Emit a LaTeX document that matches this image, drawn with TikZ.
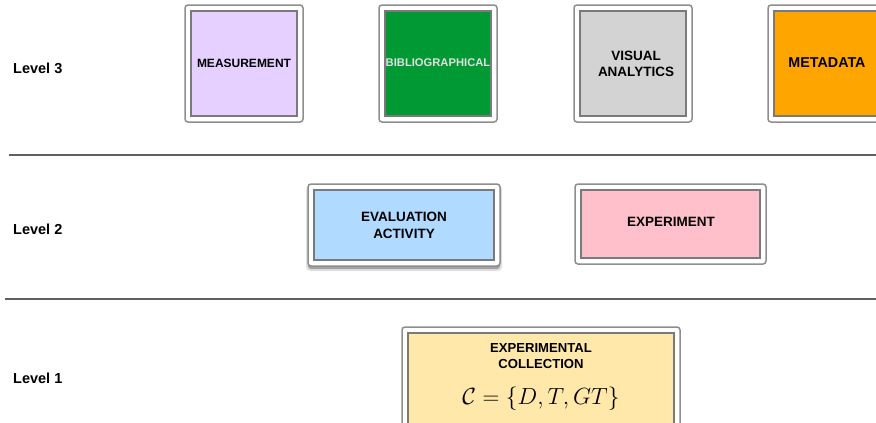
\documentclass[tikz,border=0pt]{standalone}
\usepackage{fontspec}
\setmainfont{Liberation Sans}
\definecolor{outerc}{HTML}{8E8E8E}
\definecolor{innerc}{HTML}{7A7A7A}
\definecolor{cmeas}{HTML}{E6D0FF}
\definecolor{cbib}{HTML}{009933}
\definecolor{cvis}{HTML}{D3D3D3}
\definecolor{cmeta}{HTML}{FFA500}
\definecolor{ceval}{HTML}{B0DAFF}
\definecolor{cexp}{HTML}{FFC0CB}
\definecolor{ccoll}{HTML}{FFE8AA}
\tikzset{
  outerbox/.style={draw=outerc, line width=1.5pt, rounded corners=3pt, fill=white},
  innerbox/.style={draw=innerc, line width=1.8pt},
  lbl/.style={font=\bfseries\fontsize{13.5}{16.5}\selectfont, align=center, inner sep=0pt},
  lvl/.style={font=\bfseries\fontsize{14.5}{17}\selectfont, anchor=west, inner sep=0pt},
  sep/.style={draw=gray!75!black, line width=1.1pt}
}
\begin{document}
\begin{tikzpicture}[x=1pt,y=-1pt]
\useasboundingbox (0,0) rectangle (876,423);
% separators
\coordinate (s1a) at (9,155); \coordinate (s1b) at (876,155);
\coordinate (s2a) at (5,299); \coordinate (s2b) at (876,299);
\draw[sep] (s1a) -- (s1b);
\draw[sep] (s2a) -- (s2b);
% level labels
\node[lvl] (l3) at (13,68) {Level 3};
\node[lvl] (l2) at (13,229) {Level 2};
\node[lvl] (l1) at (13,378) {Level 1};
% level 3
\draw[outerbox] (185,5) rectangle (303,122);
\draw[innerbox, fill=cmeas] (191,11) rectangle (297,116);
\node[lbl, font=\bfseries\fontsize{12}{14}\selectfont] (meas) at (244,63) {MEASUREMENT};
\draw[outerbox] (379,5) rectangle (497,122);
\draw[innerbox, fill=cbib] (385,11) rectangle (491,116);
\node[lbl, text=gray!25, font=\bfseries\fontsize{11.2}{13}\selectfont] (bib) at (438,63) {BIBLIOGRAPHICAL};
\draw[outerbox] (574,5) rectangle (692,122);
\draw[innerbox, fill=cvis] (580,11) rectangle (686,116);
\node[lbl] (vis) at (636,64) {VISUAL\\ANALYTICS};
\draw[outerbox] (768,5) rectangle (886,122);
\draw[innerbox, fill=cmeta] (774,11) rectangle (880,116);
\node[lbl, font=\bfseries\fontsize{14.3}{16}\selectfont] (meta) at (827,63) {METADATA};
% level 2
\fill[black, opacity=0.12, rounded corners=4pt] (306,185) rectangle (502,271);
\fill[black, opacity=0.28, rounded corners=3pt] (308,186) rectangle (500,269);
\draw[outerbox] (308,184) rectangle (500,266);
\draw[innerbox, fill=ceval] (314,190) rectangle (494,260);
\node[lbl] (eval) at (404,225.5) {EVALUATION\\ACTIVITY};
\draw[outerbox] (575,184) rectangle (766,264);
\draw[innerbox, fill=cexp] (581,190) rectangle (760,258);
\node[lbl] (exp) at (671,222) {EXPERIMENT};
% level 1
\draw[outerbox] (402,327) rectangle (680,430);
\draw[innerbox, fill=ccoll] (408,333) rectangle (674,424);
\node[lbl, font=\bfseries\fontsize{13.1}{16}\selectfont] (coll) at (541,356) {EXPERIMENTAL\\COLLECTION};
\node[font=\fontsize{24}{26}\selectfont, inner sep=0pt, scale=0.94] (form) at (541,399) {$\mathcal{C} = \{D, T, GT\}$};
\end{tikzpicture}
\end{document}
